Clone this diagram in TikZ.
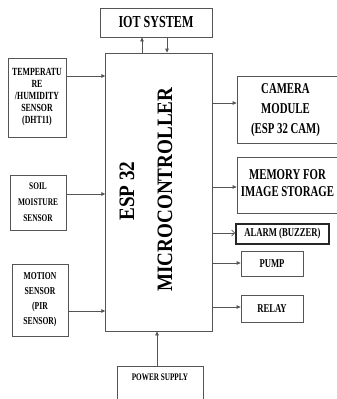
\documentclass[tikz,border=0pt]{standalone}
\usepackage{fontspec}
\setmainfont{Liberation Serif}
\newfontfamily\nar[FakeStretch=0.72]{Liberation Serif}
\newfontfamily\mcuf[FakeStretch=0.87]{Liberation Serif}
\usetikzlibrary{arrows.meta}
\definecolor{ln}{HTML}{555555}
\tikzset{
  box/.style={draw=ln, line width=0.8pt, inner sep=0pt, align=center, font=\nar\bfseries},
  arr/.style={draw=ln, line width=0.8pt, -{Triangle[length=4pt,width=3.6pt]}},
  oarr/.style={draw=ln, line width=0.8pt, -{Straight Barb[length=3pt,width=6pt]}},
}
\begin{document}
\begin{tikzpicture}[x=1pt,y=-1pt]
\useasboundingbox (0,0) rectangle (337,399);
% boxes
\node[box, minimum width=112pt, minimum height=29pt, font=\nar\bfseries\fontsize{16.8}{18}\selectfont] (iot) at (156,22.5) {IOT SYSTEM};
\node[box, minimum width=107pt, minimum height=278pt] (mcu) at (159.2,192) {};
\node[rotate=90, font=\mcuf\bfseries\fontsize{22}{24}\selectfont] (esp) at (127,191) {ESP 32};
\node[rotate=90, font=\mcuf\bfseries\fontsize{22}{24}\selectfont] (micro) at (165,189.5) {MICROCONTROLLER};
\node[box, minimum width=58pt, minimum height=79pt, font=\nar\bfseries\fontsize{10.9}{12}\selectfont] (temp) at (37,97.5) {TEMPERATU\\RE\\/HUMIDITY\\SENSOR\\(DHT11)};
\node[box, minimum width=56pt, minimum height=55pt, font=\nar\bfseries\fontsize{10.2}{16}\selectfont] (soil) at (38,202.5) {SOIL\\MOISTURE\\SENSOR};
\node[box, minimum width=56pt, minimum height=72pt, font=\nar\bfseries\fontsize{10.6}{15}\selectfont] (motion) at (40,300) {MOTION\\SENSOR\\(PIR\\SENSOR)};
\node[box, minimum width=108pt, minimum height=67pt, font=\nar\bfseries\fontsize{15}{20}\selectfont] (cam) at (291,109.5) {};
\node[font=\nar\bfseries\fontsize{15}{20}\selectfont, align=center] (camt) at (285.5,110) {CAMERA\\MODULE\\(ESP 32 CAM)};
\node[box, minimum width=108pt, minimum height=56pt] (mem) at (291,185) {};
\node[font=\nar\bfseries\fontsize{15}{17}\selectfont, align=center] (memt) at (287.5,183.5) {MEMORY FOR\\IMAGE STORAGE};
\node[box, draw=black!85, line width=1.6pt, minimum width=93pt, minimum height=20pt, font=\nar\bfseries\fontsize{12}{14}\selectfont] (alarm) at (282.5,234) {ALARM (BUZZER)};
\node[box, minimum width=62pt, minimum height=25pt, font=\nar\bfseries\fontsize{12}{14}\selectfont] (pump) at (272,263.5) {PUMP};
\node[box, minimum width=62pt, minimum height=27pt, font=\nar\bfseries\fontsize{12}{14}\selectfont] (relay) at (272,308.5) {RELAY};
\node[box, minimum width=86pt, minimum height=50pt] (power) at (160,391) {};
\node[font=\nar\bfseries\fontsize{10}{12}\selectfont] (powert) at (160,377) {POWER SUPPLY};
% helper coordinates
\coordinate (u1) at (142,0);
\coordinate (d1) at (167,0);
\coordinate (p1) at (157,0);
\coordinate (yt) at (0,76);
\coordinate (ys) at (0,194);
\coordinate (ym) at (0,311);
\coordinate (yc) at (0,103);
\coordinate (ye) at (0,187);
\coordinate (ya) at (0,233);
\coordinate (yp) at (0,263);
\coordinate (yr) at (0,307);
% connectors
\draw[arr] (mcu.north -| u1) -- (iot.south -| u1);
\draw[arr] (iot.south -| d1) -- (mcu.north -| d1);
\draw[arr] (temp.east |- yt) -- (mcu.west |- yt);
\draw[arr] (soil.east |- ys) -- (mcu.west |- ys);
\draw[arr] (motion.east |- ym) -- (mcu.west |- ym);
\draw[arr] (mcu.east |- yc) -- (cam.west |- yc);
\draw[arr] (mcu.east |- ye) -- (mem.west |- ye);
\draw[oarr] (mcu.east |- ya) -- (alarm.west |- ya);
\draw[arr] (mcu.east |- yp) -- (pump.west |- yp);
\draw[arr] (mcu.east |- yr) -- (relay.west |- yr);
\draw[arr] (power.north -| p1) -- (mcu.south -| p1);
\end{tikzpicture}
\end{document}
